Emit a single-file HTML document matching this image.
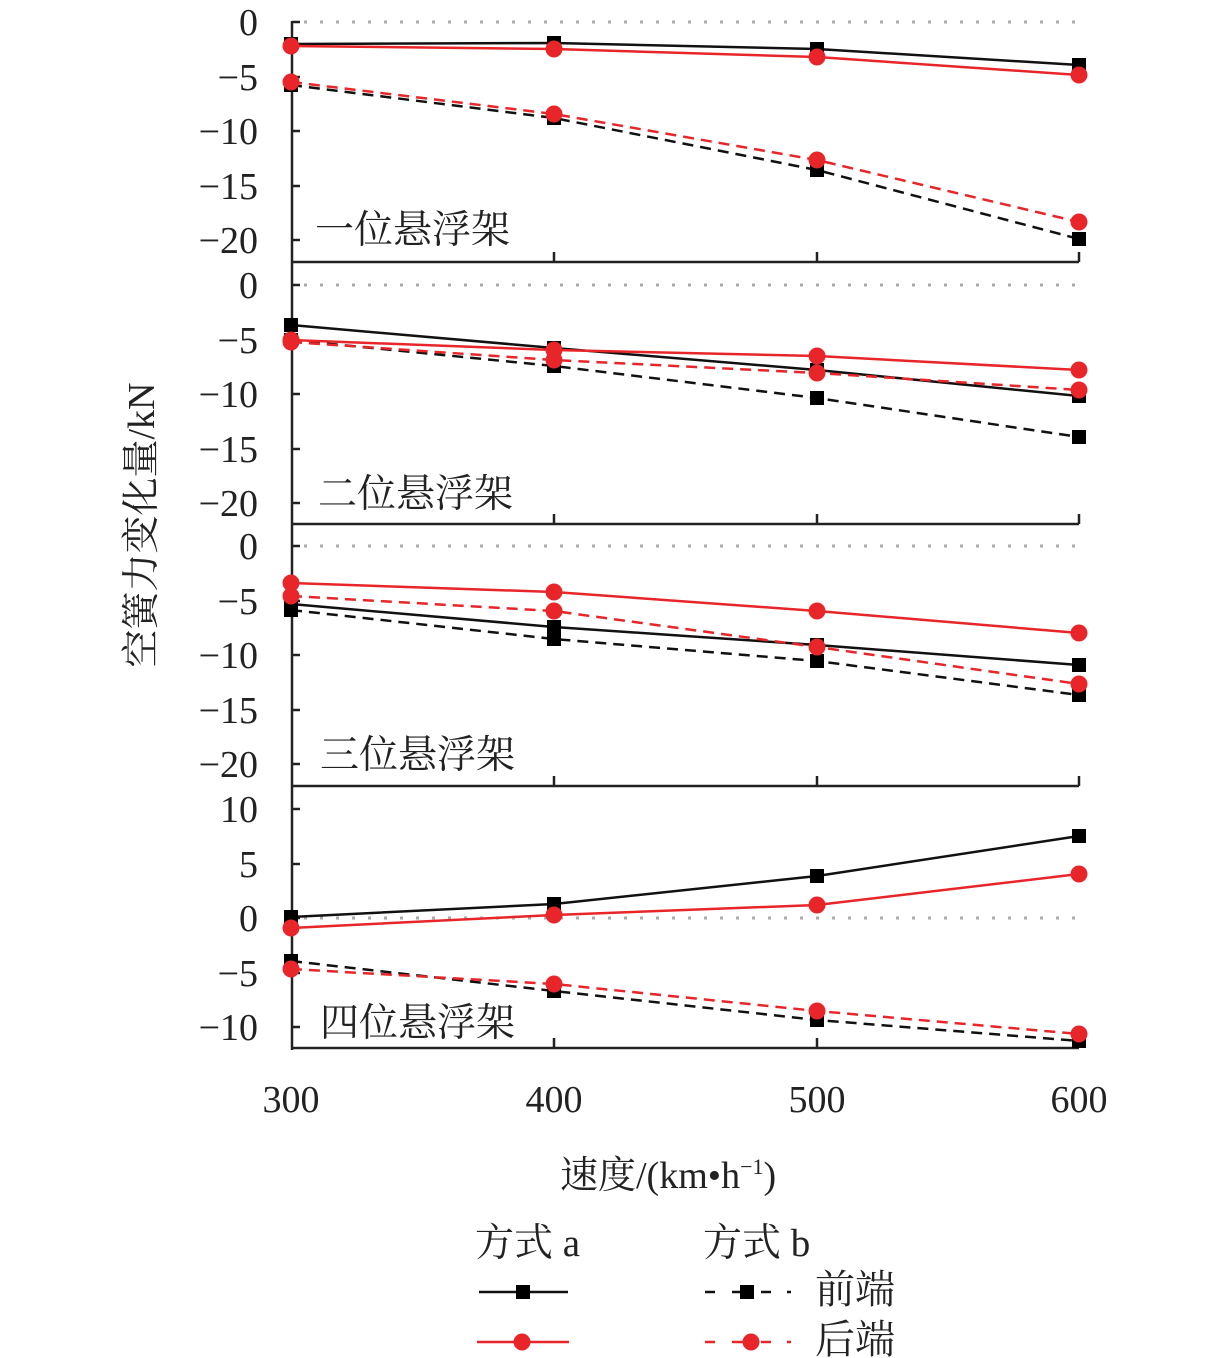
<!DOCTYPE html>
<html><head><meta charset="utf-8"><style>
html,body{margin:0;padding:0;background:#fff;}
svg{display:block;}
text{font-family:"Liberation Serif","Noto Serif CJK SC",serif;fill:#222;}
</style></head><body>
<svg width="1228" height="1358" viewBox="0 0 1228 1358" xmlns="http://www.w3.org/2000/svg">
<defs>
<marker id="sq" markerUnits="userSpaceOnUse" markerWidth="16" markerHeight="16" refX="8" refY="8"><rect x="1" y="1" width="14" height="14" fill="#000"/></marker>
<marker id="ci" markerUnits="userSpaceOnUse" markerWidth="20" markerHeight="20" refX="10" refY="10"><circle cx="10" cy="10" r="8.5" fill="#e8262a"/></marker>
</defs>
<g stroke="#aaa" stroke-width="3" stroke-dasharray="3 13">
<line x1="304" y1="22" x2="1079" y2="22"/>
<line x1="304" y1="285" x2="1079" y2="285"/>
<line x1="304" y1="546" x2="1079" y2="546"/>
<line x1="304" y1="918" x2="1079" y2="918"/>
</g>
<g stroke="#222" stroke-width="2.5" fill="none">
<line x1="292" y1="21" x2="292" y2="1050"/>
<line x1="292" y1="262" x2="1079" y2="262"/>
<line x1="292" y1="524" x2="1079" y2="524"/>
<line x1="292" y1="786" x2="1079" y2="786"/>
<line x1="292" y1="1048" x2="1079" y2="1048"/>
<path d="M554 262v-10M817 262v-10M1079 262v-10M554 524v-10M817 524v-10M1079 524v-10M554 786v-10M817 786v-10M1079 786v-10M554 1048v-10M817 1048v-10M1079 1048v-10"/>
<path d="M292 22h8M292 77h8M292 131h8M292 186h8M292 240h8"/>
<path d="M292 285h8M292 340h8M292 394h8M292 449h8M292 503h8"/>
<path d="M292 546h8M292 601h8M292 655h8M292 710h8M292 764h8"/>
<path d="M292 809h8M292 864h8M292 918h8M292 973h8M292 1027h8"/>
</g>
<g font-size="38" text-anchor="end">
<text x="258" y="35">0</text><text x="258" y="90">−5</text><text x="258" y="144">−10</text><text x="258" y="199">−15</text><text x="258" y="253">−20</text>
<text x="258" y="298">0</text><text x="258" y="353">−5</text><text x="258" y="407">−10</text><text x="258" y="462">−15</text><text x="258" y="516">−20</text>
<text x="258" y="559">0</text><text x="258" y="614">−5</text><text x="258" y="668">−10</text><text x="258" y="723">−15</text><text x="258" y="777">−20</text>
<text x="258" y="822">10</text><text x="258" y="877">5</text><text x="258" y="931">0</text><text x="258" y="986">−5</text><text x="258" y="1040">−10</text>
</g>
<g font-size="39">
<text x="315" y="243">一位悬浮架</text>
<text x="318" y="507">二位悬浮架</text>
<text x="320" y="768">三位悬浮架</text>
<text x="320" y="1036">四位悬浮架</text>
</g>
<g font-size="38" text-anchor="middle">
<text x="291" y="1112">300</text><text x="554" y="1112">400</text><text x="817" y="1112">500</text><text x="1079" y="1112">600</text>
</g>
<text x="560" y="1188" font-size="38">速度/(km•h<tspan font-size="22" dy="-14">−1</tspan><tspan dy="14">)</tspan></text>
<text transform="translate(154,525) rotate(-90)" font-size="38" text-anchor="middle">空簧力变化量/kN</text>
<g fill="none" stroke-width="2.5">
<polyline stroke="#111" points="291,44 554,43 817,49 1079,65" marker-start="url(#sq)" marker-mid="url(#sq)" marker-end="url(#sq)"/>
<polyline stroke="#111" stroke-dasharray="11 7" points="291,85 554,118 817,170 1079,239" marker-start="url(#sq)" marker-mid="url(#sq)" marker-end="url(#sq)"/>
<polyline stroke="#e8262a" points="291,46 554,49 817,57 1079,75" marker-start="url(#ci)" marker-mid="url(#ci)" marker-end="url(#ci)"/>
<polyline stroke="#e8262a" stroke-dasharray="11 7" points="291,82 554,114 817,160 1079,222" marker-start="url(#ci)" marker-mid="url(#ci)" marker-end="url(#ci)"/>
<polyline stroke="#111" points="291,325 554,348 817,370 1079,396" marker-start="url(#sq)" marker-mid="url(#sq)" marker-end="url(#sq)"/>
<polyline stroke="#111" stroke-dasharray="11 7" points="291,340 554,366 817,398 1079,437" marker-start="url(#sq)" marker-mid="url(#sq)" marker-end="url(#sq)"/>
<polyline stroke="#e8262a" points="291,340 554,350 817,356 1079,370" marker-start="url(#ci)" marker-mid="url(#ci)" marker-end="url(#ci)"/>
<polyline stroke="#e8262a" stroke-dasharray="11 7" points="291,342 554,360 817,373 1079,390" marker-start="url(#ci)" marker-mid="url(#ci)" marker-end="url(#ci)"/>
<polyline stroke="#111" points="291,604 554,627 817,645 1079,665" marker-start="url(#sq)" marker-mid="url(#sq)" marker-end="url(#sq)"/>
<polyline stroke="#111" stroke-dasharray="11 7" points="291,610 554,639 817,661 1079,695" marker-start="url(#sq)" marker-mid="url(#sq)" marker-end="url(#sq)"/>
<polyline stroke="#e8262a" points="291,583 554,592 817,611 1079,633" marker-start="url(#ci)" marker-mid="url(#ci)" marker-end="url(#ci)"/>
<polyline stroke="#e8262a" stroke-dasharray="11 7" points="291,596 554,611 817,647 1079,684" marker-start="url(#ci)" marker-mid="url(#ci)" marker-end="url(#ci)"/>
<polyline stroke="#111" points="291,917 554,904 817,876 1079,836" marker-start="url(#sq)" marker-mid="url(#sq)" marker-end="url(#sq)"/>
<polyline stroke="#111" stroke-dasharray="11 7" points="291,961 554,991 817,1020 1079,1041" marker-start="url(#sq)" marker-mid="url(#sq)" marker-end="url(#sq)"/>
<polyline stroke="#e8262a" points="291,928 554,915 817,905 1079,874" marker-start="url(#ci)" marker-mid="url(#ci)" marker-end="url(#ci)"/>
<polyline stroke="#e8262a" stroke-dasharray="11 7" points="291,969 554,984 817,1011 1079,1034" marker-start="url(#ci)" marker-mid="url(#ci)" marker-end="url(#ci)"/>
<polyline stroke="#111" points="479,1292 523,1292 568,1292" marker-mid="url(#sq)"/>
<polyline stroke="#e8262a" points="477,1342 522,1342 569,1342" marker-mid="url(#ci)"/>
<polyline stroke="#111" stroke-dasharray="10 17 22 7 10 16 4" points="705,1292 747,1292 795,1292" marker-mid="url(#sq)"/>
<polyline stroke="#e8262a" stroke-dasharray="10 17 22 7 10 16 4" points="705,1342 751,1342 798,1342" marker-mid="url(#ci)"/>
</g>
<g font-size="39">
<text x="475" y="1256">方式 a</text>
<text x="703" y="1256">方式 b</text>
<text x="815" y="1303" font-size="40">前端</text>
<text x="815" y="1353" font-size="40">后端</text>
</g>
</svg>
</body></html>
